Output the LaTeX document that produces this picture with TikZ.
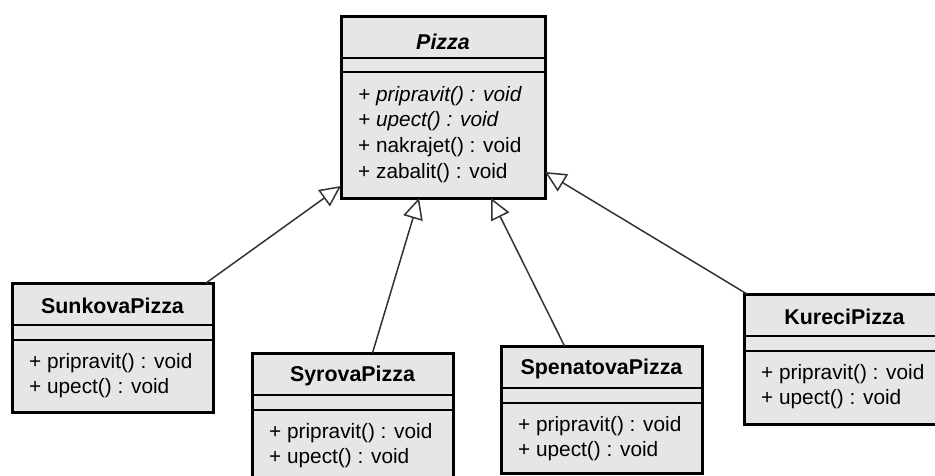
\documentclass[tikz,border=0pt]{standalone}
\usepackage{fontspec}
\setmainfont{Liberation Sans}
\usetikzlibrary{arrows.meta}
\definecolor{boxfill}{HTML}{E6E6E6}
\definecolor{edgegray}{HTML}{333333}
\newcommand\titlefont{\fontsize{21.4}{25}\selectfont\bfseries}
\newcommand\memberfont{\fontsize{20.8}{25}\selectfont}
\tikzset{
  x=1pt, y=1pt,
  classbox/.style={draw=black, line width=3pt, fill=boxfill, inner sep=0pt, outer sep=0pt, anchor=north west},
  sepline/.style={draw=black, line width=2pt},
  classname/.style={font=\titlefont, inner sep=0pt, anchor=center},
  member/.style={font=\memberfont, inner sep=0pt, anchor=west},
  abstractmember/.style={member, font=\memberfont\itshape},
  inherit/.style={draw=edgegray, line width=1.5pt, -{Triangle[open, length=21pt, width=20pt, fill=white]}},
}
% a subclass box: name, position of its top left corner, class name, height
\newcommand\childclass[4]{%
  \node[classbox, minimum width=201pt, minimum height=#4pt] (#1) at #2 {};
  \draw[sepline] ([yshift=-42pt]#1.north west) -- ([yshift=-42pt]#1.north east);
  \draw[sepline] ([yshift=-57pt]#1.north west) -- ([yshift=-57pt]#1.north east);
  \node[classname] (#1-title) at ([yshift=-23pt]#1.north) {#3};
  \node[member] (#1-op1) at ([xshift=17pt,yshift=-80pt]#1.north west) {+ pripravit() : void};
  \node[member] (#1-op2) at ([xshift=17pt,yshift=-105pt]#1.north west) {+ upect() : void};
}
\begin{document}
\begin{tikzpicture}
\useasboundingbox (0,0) rectangle (935,-475);
\clip (0,0) rectangle (935,-475);

% abstract base class
\node[classbox, minimum width=204pt, minimum height=182pt] (pizza) at (341,-16) {};
\draw[sepline] ([yshift=-42pt]pizza.north west) -- ([yshift=-42pt]pizza.north east);
\draw[sepline] ([yshift=-56pt]pizza.north west) -- ([yshift=-56pt]pizza.north east);
\node[classname, font=\titlefont\itshape] (pizza-title) at ([yshift=-26pt]pizza.north) {Pizza};
\node[abstractmember] (pizza-op1) at ([xshift=17pt,yshift=-80pt]pizza.north west) {+ pripravit() : void};
\node[abstractmember] (pizza-op2) at ([xshift=17pt,yshift=-105pt]pizza.north west) {+ upect() : void};
\node[member] (pizza-op3) at ([xshift=17pt,yshift=-131pt]pizza.north west) {+ nakrajet() : void};
\node[member] (pizza-op4) at ([xshift=17pt,yshift=-157pt]pizza.north west) {+ zabalit() : void};

% concrete subclasses
\childclass{sunkova}{(12,-283)}{SunkovaPizza}{129}
\childclass{syrova}{(252,-353)}{SyrovaPizza}{129}
\childclass{spenatova}{(501,-346)}{SpenatovaPizza}{127}
\childclass{kureci}{(744,-294)}{KureciPizza}{130}

% generalisation arrows
\draw[inherit] ([xshift=-7pt]sunkova.north east) -- ([yshift=12pt]pizza.south west);
\draw[inherit] ([xshift=20pt]syrova.north) -- ([xshift=-24pt]pizza.south);
\draw[inherit] ([xshift=-37pt]spenatova.north) -- ([xshift=48pt]pizza.south);
\draw[inherit] ([xshift=3pt]kureci.north west) -- ([yshift=26pt]pizza.south east);
\end{tikzpicture}
\end{document}
